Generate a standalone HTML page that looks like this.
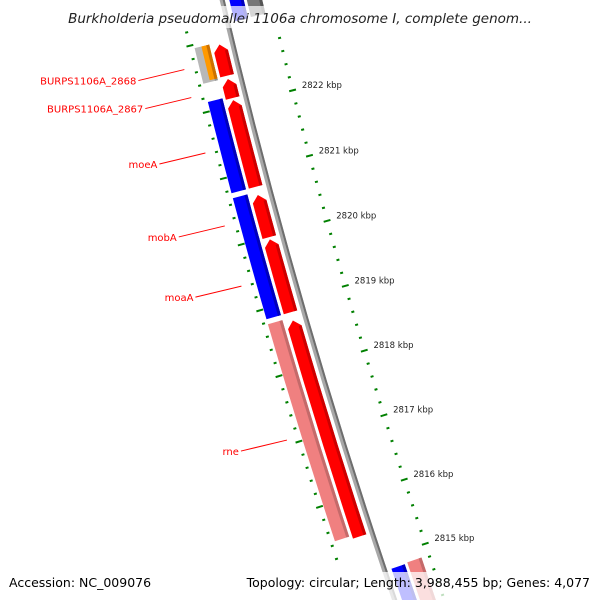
<!DOCTYPE html>
<html><head><meta charset="utf-8"><style>
html,body{margin:0;padding:0;background:#fff;width:600px;height:600px;overflow:hidden;}
svg{display:block;overflow:hidden;font-family:"DejaVu Sans","Liberation Sans",sans-serif;}
</style></head><body>
<svg id="map" width="600" height="600" viewBox="0 0 600 600" xmlns="http://www.w3.org/2000/svg">
<g id="ticks"></g>
<g id="backbone"></g>
<g id="genes"></g>
<g id="labels"></g>
<rect x="60" y="6" width="480" height="22" fill="#fff" opacity="0.7"/>
<text x="300" y="23" text-anchor="middle" font-size="13.5" font-style="italic" fill="#222">Burkholderia pseudomallei 1106a chromosome I, complete genom...</text>
<rect x="0" y="572" width="600" height="28" fill="#fff" opacity="0.75"/>
<text x="9" y="587" font-size="12.5" fill="#000">Accession: NC_009076</text>
<text x="590" y="587" text-anchor="end" font-size="12.5" fill="#000">Topology: circular; Length: 3,988,455 bp; Genes: 4,077</text>
</svg>
<script>
// ---- data ----
const fwdStarts = [2822444, 2822107, 2820761, 2819996, 2818848, 2815406];
const fwdEnds   = [2822933, 2822413, 2822092, 2820654, 2819980, 2818741];
const revStarts = [2820761, 2819996, 2818848];
const revEnds   = [2822138, 2820684, 2820026];
const rnaStarts = [2815452];
const rnaEnds   = [2818772];
const otherStarts = [2822413];
const otherEnds   = [2822949];
const orangeStarts = [2822440];
const orangeEnds   = [2822949];
const innerBlueStarts = [2823193, 2814000];
const innerBlueEnds   = [2824200, 2814808];
const innerGrayStarts = [2823200];
const innerGrayEnds   = [2824200];
const innerPinkStarts = [2814000];
const innerPinkEnds   = [2814824];
const labelNames = ["BURPS1106A_2868","BURPS1106A_2867","moeA","mobA","moaA","rne"];
const labelBp    = [2822681, 2822260, 2821426, 2820325, 2819414, 2817073];
const tickStep = 200;
const innerTickRange = [2814000, 2822800];
const outerTickRange = [2815200, 2823200];
const labelTickMin = 2815000;

// ---- geometry ----
const NS="http://www.w3.org/2000/svg";
const CX=6452, CY=-1466, R0=6400, G0=0.2475, K=1.0625e-5;
function ang(bp){return G0-(bp-2822000)*K;}
function P(bp,r){const g=ang(bp);return [CX-r*Math.cos(g), CY+r*Math.sin(g)];}
function f(p){return p[0].toFixed(2)+" "+p[1].toFixed(2);}
function arcPath(a,b,r1,r2){
  return "M"+f(P(a,r1))+" A"+r1+" "+r1+" 0 0 1 "+f(P(b,r1))+" L"+f(P(b,r2))+" A"+r2+" "+r2+" 0 0 0 "+f(P(a,r2))+"Z";
}
function arrowPath(a,b,r1,r2){
  const h=Math.min(120,(b-a)*0.5), rm=(r1+r2)/2;
  return "M"+f(P(a,r1))+" A"+r1+" "+r1+" 0 0 1 "+f(P(b-h,r1))+" L"+f(P(b-h*0.15,rm))+" L"+f(P(b-h,r2))+" A"+r2+" "+r2+" 0 0 0 "+f(P(a,r2))+"Z";
}
function mk(tag,parent,attrs){const e=document.createElementNS(NS,tag);for(const k in attrs)e.setAttribute(k,attrs[k]);parent.appendChild(e);return e;}

// backbone
const bb=document.getElementById('backbone');
let e=mk('path',bb,{d:"M"+f(P(2813500,R0))+" A"+R0+" "+R0+" 0 0 1 "+f(P(2824500,R0)),fill:"none",stroke:"#a8a8a8","stroke-width":5});


e=mk('path',bb,{d:"M"+f(P(2813500,R0-1.5))+" A"+(R0-1.5)+" "+(R0-1.5)+" 0 0 1 "+f(P(2824500,R0-1.5)),fill:"none",stroke:"#6e6e6e","stroke-width":2});



// genes
const gg=document.getElementById('genes');
function drawSet(starts,ends,r1,r2,fill,dark,arrow,name){
  for(let i=0;i<starts.length;i++){
    const d=arrow?arrowPath(starts[i],ends[i],r1,r2):arcPath(starts[i],ends[i],r1,r2);
    const p=mk('path',gg,{d:d,fill:fill});
    
    
    if(dark){
      const h=arrow?Math.min(120,(ends[i]-starts[i])*0.5):0;
      const s=mk('path',gg,{d:arcPath(starts[i],ends[i]-h,r1,r1+3),fill:dark});
      
      
    }
  }
}
drawSet(otherStarts,otherEnds,R0+23,R0+38,"#b8b8b8","#909090",false,"other-gene");
drawSet(orangeStarts,orangeEnds,R0+23,R0+31,"#ff9900","#cc7000",false,"orange-gene");
drawSet(revStarts,revEnds,R0+23,R0+38,"#0000ff","#0000bb",false,"reverse-gene");
drawSet(rnaStarts,rnaEnds,R0+23,R0+38,"#f08080","#c46a6a",false,"rna-gene");
drawSet(fwdStarts,fwdEnds,R0+6,R0+20,"#ff0000","#cc0000",true,"forward-gene");
drawSet(innerBlueStarts,innerBlueEnds,R0-21,R0-7,"#0000ff","#0000bb",false,"inner-blue-feature");
drawSet(innerGrayStarts,innerGrayEnds,R0-39,R0-24,"#777777","#555555",false,"inner-gray-feature");
drawSet(innerPinkStarts,innerPinkEnds,R0-39,R0-24,"#f08080","#c46a6a",false,"inner-pink-feature");

// ticks
const tg=document.getElementById('ticks');
function ring(range,r,labels,name){
  for(let bp=range[0];bp<=range[1];bp+=tickStep){
    const major=bp%1000===0, len=major?7:3;
    const a=P(bp,r+len/2), b=P(bp,r-len/2);
    const t=mk('line',tg,{x1:a[0],y1:a[1],x2:b[0],y2:b[1],stroke:"#008000","stroke-width":2});
    
    
    if(major&&labels&&bp>=labelTickMin){
      const q=P(bp,r-len/2-4);
      const tx=mk('text',tg,{x:q[0]+2,y:q[1]-0.5,"font-size":"8.5",fill:"#222"});
      tx.textContent=(bp/1000)+" kbp";
      
      
    }
  }
}
ring(innerTickRange,R0-47,true,"inner-ruler");
ring(outerTickRange,R0+42,false,"outer-ruler");

// labels
const lg=document.getElementById('labels');
for(let i=0;i<labelNames.length;i++){
  const end=P(labelBp[i],R0+53);
  const sx=end[0]-46, sy=end[1]+11;
  const l=mk('line',lg,{x1:sx,y1:sy,x2:end[0],y2:end[1],stroke:"#ff0000","stroke-width":1});
  
  
  const t=mk('text',lg,{x:sx-2,y:sy+4,"text-anchor":"end","font-size":"10",fill:"#ff0000"});
  t.textContent=labelNames[i];
  
  
}
</script>
</body></html>
